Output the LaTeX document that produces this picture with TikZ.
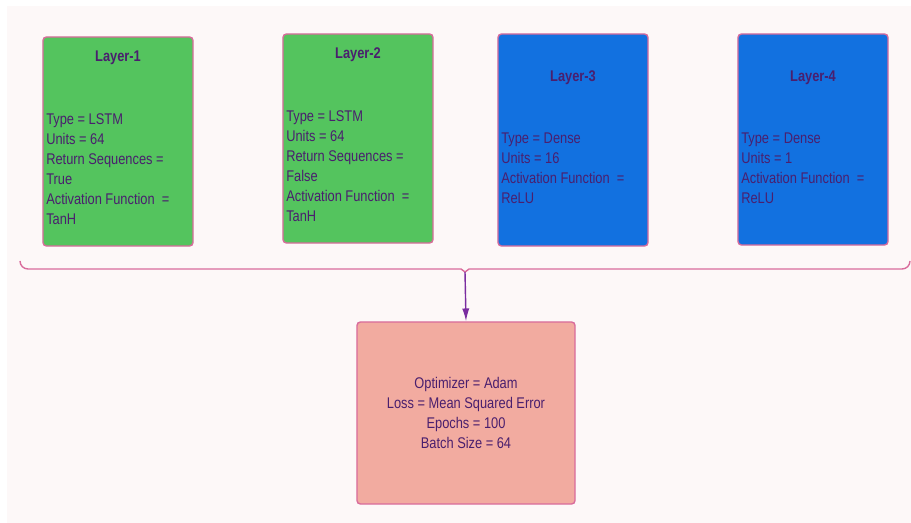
\documentclass[tikz,border=0pt]{standalone}
\usepackage{fontspec}
\setmainfont{Liberation Sans}[FakeStretch=0.83]
\usepackage{xcolor}
\definecolor{bgPaper}{HTML}{FDF8F8}
\definecolor{layerLstm}{HTML}{54C45E}
\definecolor{layerDense}{HTML}{1271E0}
\definecolor{trainBox}{HTML}{F2ABA0}
\definecolor{edgePink}{HTML}{D96C9C}
\definecolor{inkPurple}{HTML}{4A1F6E}
\definecolor{arrowPurple}{HTML}{7A2CA0}
\usetikzlibrary{arrows.meta}

\tikzset{
  layerbox/.style={rectangle, rounded corners=2.5pt, draw=edgePink, line width=1pt, minimum width=3.75cm},
  layertitle/.style={font=\fontsize{11}{14.2}\selectfont\bfseries, text=inkPurple, inner sep=0pt},
  layerbody/.style={font=\fontsize{11}{14.2}\selectfont, text=inkPurple, align=left, anchor=west, inner sep=0pt}
}

\begin{document}
\begin{tikzpicture}[x=0.025cm, y=-0.025cm]
  \useasboundingbox (0,0) rectangle (911,523);
  \fill[bgPaper] (7,6) rectangle (911,523);
  % layers
  \node[layerbox, fill=layerLstm, minimum height=5.225cm] (L1) at (118,141.5) {};
  \node[layerbox, fill=layerLstm, minimum height=5.225cm] (L2) at (358,138.5) {};
  \node[layerbox, fill=layerDense, minimum height=5.3cm] (L3) at (573,140) {};
  \node[layerbox, fill=layerDense, minimum height=5.275cm] (L4) at (813,139.5) {};
  \node[layertitle] (L1t) at (118,58) {Layer-1};
  \node[layertitle] (L2t) at (358,55) {Layer-2};
  \node[layertitle] (L3t) at (573,78) {Layer-3};
  \node[layertitle] (L4t) at (813,78) {Layer-4};
  \node[layerbody] (L1b) at (46,169) {Type = LSTM\\Units = 64\\Return Sequences =\\True\\Activation Function~~=\\TanH};
  \node[layerbody] (L2b) at (286,166) {Type = LSTM\\Units = 64\\Return Sequences =\\False\\Activation Function~~=\\TanH};
  \node[layerbody] (L3b) at (501,168) {Type = Dense\\Units = 16\\Activation Function~~=\\ReLU};
  \node[layerbody] (L4b) at (741,168) {Type = Dense\\Units = 1\\Activation Function~~=\\ReLU};
  % training settings
  \node[rectangle, rounded corners=2.5pt, draw=edgePink, line width=1pt, fill=trainBox,
        minimum width=5.45cm, minimum height=4.55cm] (train) at (466,413) {};
  \node[font=\fontsize{11}{14.2}\selectfont, text=inkPurple, align=center, inner sep=0pt] (trainTxt) at (466,413)
    {Optimizer = Adam\\Loss = Mean Squared Error\\Epochs = 100\\Batch Size = 64};
  % brace and arrow
  \coordinate (cusp) at (465,272);
  \draw[edgePink, line width=1pt] (20,261) to[out=-90, in=180] (28,269) -- (461,269) -- (cusp)
    -- (469,269) -- (902,269) to[out=0, in=-90] (910,261);
  \draw[arrowPurple, line width=1pt, -{Latex[length=3.2mm, width=1.8mm]}] (cusp) -- (train.north);
\end{tikzpicture}
\end{document}
